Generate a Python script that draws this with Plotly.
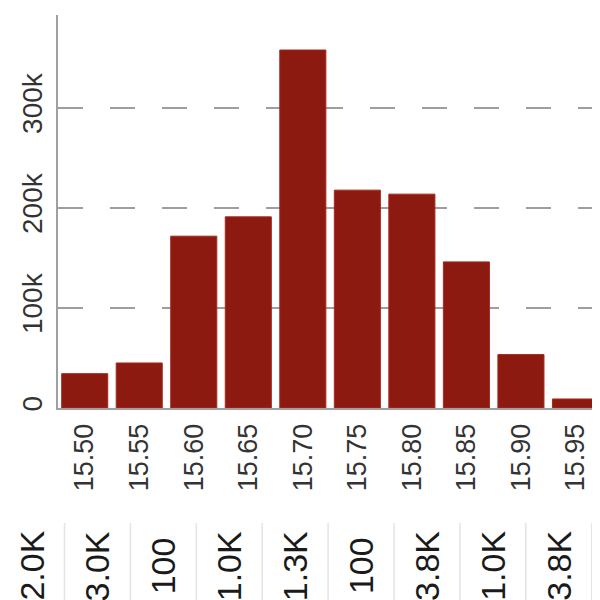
import plotly.graph_objects as go

# ---- data ----
categories = ["15.50", "15.55", "15.60", "15.65", "15.70", "15.75", "15.80", "15.85", "15.90", "15.95"]
counts = [34300, 45000, 171700, 191000, 357700, 217700, 213700, 146000, 53400, 9000]
y_tick_vals = [0, 100000, 200000, 300000]
y_tick_text = ["0", "100k", "200k", "300k"]
bottom_labels = ["2.0K", "3.0K", "100", "1.0K", "1.3K", "100", "3.8K", "1.0K", "3.8K"]

# the page body adds an 8px offset; the figure fills the rest of the window
OFF = 8
W, H = 600 - OFF, 600 - OFF
ML, MR, MT, MB = 58 - OFF, 0, 15 - OFF, 600 - 408
plot_w = W - ML - MR
plot_h = H - MT - MB

bar_color = "#8c1a11"
grid_color = "#9e9e9e"

fig = go.Figure()
fig.add_trace(go.Bar(
    x=categories,
    y=counts,
    marker=dict(color=bar_color, line=dict(color="#a8281c", width=1)),
    hoverinfo="x+y",
))

# window-pixel -> paper coordinates
def px_to_paper_x(px):
    return (px - OFF - ML) / plot_w
def px_to_paper_y(py):
    return (H - MB - (py - OFF)) / plot_h

cell_w = 65.9
first_edge = 64.5
annotations = []
shapes = []
for i, lab in enumerate(bottom_labels):
    cx = first_edge + cell_w * (i - 0.5)
    annotations.append(dict(
        text=lab, x=px_to_paper_x(cx), y=px_to_paper_y(566),
        xref="paper", yref="paper", xanchor="center", yanchor="middle",
        showarrow=False, textangle=-90,
        font=dict(family="Liberation Sans, Arial, sans-serif", size=34, color="#1a1a1a"),
    ))
for k in range(len(bottom_labels)):
    ex = first_edge + cell_w * k
    shapes.append(dict(
        type="line", xref="paper", yref="paper",
        x0=px_to_paper_x(ex), x1=px_to_paper_x(ex),
        y0=px_to_paper_y(523), y1=px_to_paper_y(602),
        line=dict(color="#e4e4e4", width=1.5), layer="below",
    ))

fig.update_layout(
    width=W, height=H,
    margin=dict(l=ML, r=MR, t=MT, b=MB, pad=0),
    paper_bgcolor="white", plot_bgcolor="white",
    showlegend=False,
    bargap=0.155,
    font=dict(family="Liberation Sans, Arial, sans-serif", color="#333333"),
    annotations=annotations,
    shapes=shapes,
)
fig.update_xaxes(
    type="category",
    range=[-0.49, 9.45],
    tickangle=-90,
    tickfont=dict(size=27, color="#333333"),
    showline=True, linecolor="#a0a0a0", linewidth=2,
    showgrid=False, ticks="", zeroline=False,
    ticklabelstandoff=3,
)
fig.update_yaxes(
    range=[0, 392700],
    tickvals=y_tick_vals, ticktext=y_tick_text,
    tickangle=-90,
    tickfont=dict(size=28, color="#333333"),
    showline=True, linecolor="#a0a0a0", linewidth=2,
    showgrid=True, gridcolor=grid_color, gridwidth=2, griddash="25px,27px",
    zeroline=False, ticks="",
    ticklabelstandoff=3,
)

fig.write_html("out.html")
